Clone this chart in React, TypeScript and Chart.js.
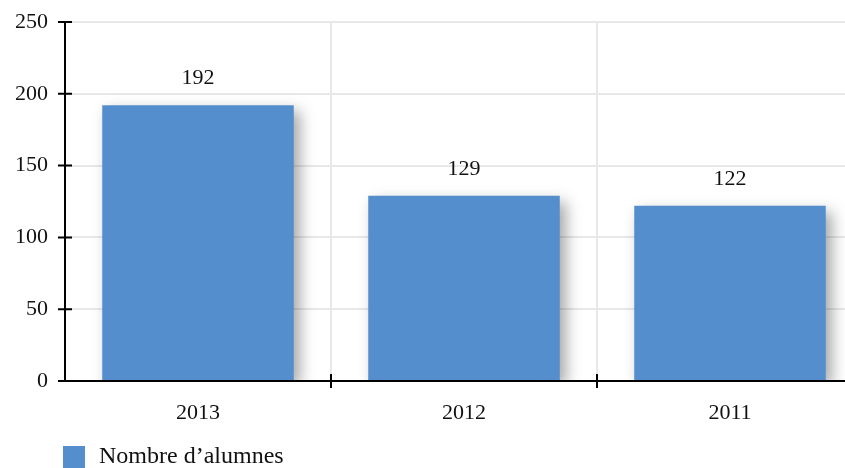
import React, { useEffect, useRef } from "react";
import { Chart, registerables } from "chart.js";

Chart.register(...registerables);

const categories = ["2013", "2012", "2011"];
const seriesLabel = "Nombre d\u2019alumnes";
const seriesValues = [192, 129, 122];
const yTicks = [0, 50, 100, 150, 200, 250];

const FONT = "'Liberation Serif', 'Times New Roman', serif";
const BAR_COLOR = "#548ECC";

const shadowPlugin = {
  id: "barShadow",
  beforeDatasetsDraw(chart: any) {
    const ctx = chart.ctx;
    ctx.save();
    ctx.shadowColor = "rgba(0,0,0,0.35)";
    ctx.shadowBlur = 14;
    ctx.shadowOffsetX = 6;
    ctx.shadowOffsetY = 6;
  },
  afterDatasetsDraw(chart: any) {
    chart.ctx.restore();
  },
};

const overlayPlugin = {
  id: "overlay",
  afterDatasetsDraw(chart: any) {
    const ctx = chart.ctx;
    const area = chart.chartArea;
    const xs = chart.scales.x;
    const ys = chart.scales.y;
    const tickHalf = 7;
    ctx.save();
    ctx.strokeStyle = "#000";
    ctx.lineWidth = 2;
    ctx.beginPath();
    ctx.moveTo(area.left, area.top);
    ctx.lineTo(area.left, area.bottom);
    ctx.moveTo(area.left, area.bottom);
    ctx.lineTo(area.right, area.bottom);
    ctx.stroke();
    ctx.beginPath();
    yTicks.forEach((v) => {
      const y = ys.getPixelForValue(v);
      ctx.moveTo(area.left - tickHalf, y);
      ctx.lineTo(area.left + tickHalf, y);
    });
    for (let i = 1; i < categories.length; i++) {
      const x = (xs.getPixelForTick(i - 1) + xs.getPixelForTick(i)) / 2;
      ctx.moveTo(x, area.bottom - tickHalf);
      ctx.lineTo(x, area.bottom + tickHalf);
    }
    ctx.stroke();

    ctx.fillStyle = "#111";
    ctx.font = `22px ${FONT}`;
    ctx.textAlign = "center";
    ctx.textBaseline = "middle";
    const meta = chart.getDatasetMeta(0);
    meta.data.forEach((bar: any, i: number) => {
      ctx.fillText(String(seriesValues[i]), bar.x, bar.y - 27);
    });

    ctx.fillStyle = BAR_COLOR;
    ctx.fillRect(63, 446, 22, 22);
    ctx.fillStyle = "#111";
    ctx.font = `24px ${FONT}`;
    ctx.textAlign = "left";
    ctx.fillText(seriesLabel, 99, 457);
    ctx.restore();
  },
};

export default function App() {
  const ref = useRef<HTMLCanvasElement>(null);
  useEffect(() => {
    if (!ref.current) return;
    const chart = new Chart(ref.current, {
      type: "bar",
      data: {
        labels: categories,
        datasets: [
          {
            label: seriesLabel,
            data: seriesValues,
            backgroundColor: BAR_COLOR,
            borderWidth: 0,
            categoryPercentage: 0.9,
            barPercentage: 0.8,
          },
        ],
      },
      plugins: [shadowPlugin, overlayPlugin],
      options: {
        responsive: false,
        animation: false,
        devicePixelRatio: 1,
        layout: { padding: { left: 0, top: 22, right: 17, bottom: 37 } },
        plugins: { legend: { display: false }, tooltip: { enabled: false } },
        scales: {
          x: {
            afterFit: (s: any) => {
              s.height = 50;
              s.paddingLeft = 0;
              s.paddingRight = 0;
            },
            grid: { color: "#e8e8e8", lineWidth: 2, offset: true, drawTicks: false },
            border: { display: false },
            ticks: { color: "#111", font: { family: FONT, size: 22 }, padding: 19 },
          },
          y: {
            min: 0,
            max: 250,
            afterFit: (s: any) => {
              s.width = 65;
              s.paddingTop = 0;
              s.paddingBottom = 0;
            },
            grid: { color: "#e8e8e8", lineWidth: 2, drawTicks: false },
            border: { display: false },
            ticks: { stepSize: 50, color: "#111", font: { family: FONT, size: 22 }, padding: 17 },
          },
        },
      },
    });
    return () => chart.destroy();
  }, []);
  return (
    <div
      style={{
        position: "fixed",
        left: 0,
        top: 0,
        width: 845,
        height: 468,
        overflow: "hidden",
        background: "#fff",
      }}
    >
      <canvas ref={ref} width={880} height={468} style={{ width: 880, height: 468 }} />
    </div>
  );
}
